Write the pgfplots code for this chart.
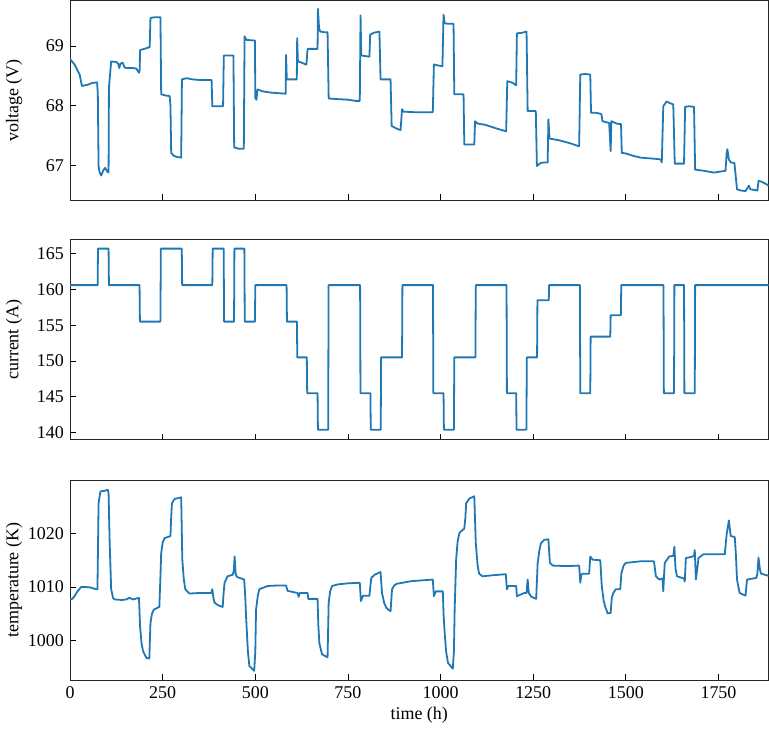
\documentclass[border=0pt]{standalone}
\usepackage{fontspec}
\setmainfont{Liberation Serif}
\usepackage{pgfplots}
\pgfplotsset{compat=1.18}
\definecolor{c0}{HTML}{1F77B4}
\begin{document}
\fontsize{18}{21}\selectfont
\begin{tikzpicture}
\pgfplotsset{
 every axis/.append style={
  scale only axis, width=700pt, height=200pt,
  xmin=0, xmax=1885,
  axis line style={line width=1pt, black!85},
  tick style={line width=0.8pt, black},
  major tick length=6pt,
  tick align=inside,
  xtick pos=bottom, ytick pos=left,
  xtick={0,250,...,1750},
  font=\fontsize{18}{21}\selectfont,
  tick label style={font=\fontsize{18}{21}\selectfont},
  label style={font=\fontsize{18}{21}\selectfont},
  /pgf/number format/assume math mode=true,
  /pgf/number format/1000 sep={},
  ylabel style={at={(axis description cs:-0.08,0.5)}, anchor=center},
  xlabel style={yshift=3pt},
 },
 myline/.style={color=c0, line width=1.8pt, line join=round, mark=none},
}
% ---------------- voltage ----------------
\begin{axis}[at={(0,0)}, ymin=66.42, ymax=69.76, ytick={67,68,69}, xticklabels={}, ylabel={voltage (V)}]
\addplot[myline] coordinates {
(0,68.78) (12,68.69) (26,68.52) (32,68.33) (48,68.35) (60,68.38) (73,68.39) (75,68.2) (77,66.99) (80,66.88) (84,66.83) (90,66.92) (95,66.96) (100,66.9) (104,66.88) (105,68.30) (111,68.74) (125,68.73) (130,68.70) (133,68.63) (136,68.70) (142,68.72) (147,68.64) (152,68.63) (170,68.63) (179,68.62) (186,68.55) (188,68.6) (189,68.93) (200,68.95) (210,68.97) (215,68.98) (217,69.47) (230,69.48) (244,69.48) (246,68.19) (258,68.17) (269,68.16) (271,68.0) (273,67.21) (280,67.16) (290,67.14) (300,67.13) (302,68.44) (315,68.46) (330,68.44) (350,68.43) (382,68.43) (384,67.99) (400,67.99) (413,67.99) (415,68.84) (428,68.84) (441,68.84) (443,67.30) (455,67.28) (469,67.28) (471,69.16) (476,69.10) (499,69.09) (500,68.13) (503,68.1) (506,68.27) (520,68.24) (540,68.22) (560,68.21) (582,68.20) (583,68.85) (585,68.44) (600,68.44) (612,68.44) (613,69.13) (615,68.74) (625,68.72) (636,68.69) (638,68.69) (641,68.95) (655,68.95) (668,68.95) (669,69.62) (672,69.3) (675,69.24) (685,69.23) (695,69.23) (698,68.12) (720,68.11) (750,68.10) (770,68.08) (782,68.08) (784,69.51) (786,68.84) (797,68.83) (808,68.82) (810,69.19) (820,69.22) (835,69.24) (838,68.44) (852,68.44) (865,68.44) (868,67.66) (880,67.62) (892,67.59) (896,67.94) (900,67.90) (930,67.89) (960,67.89) (979,67.89) (982,68.69) (995,68.67) (1005,68.66) (1008,69.52) (1011,69.38) (1020,69.37) (1035,69.37) (1037,68.19) (1050,68.19) (1062,68.19) (1064,67.35) (1080,67.35) (1091,67.35) (1093,67.74) (1100,67.70) (1120,67.68) (1150,67.62) (1177,67.57) (1180,68.41) (1195,68.38) (1204,68.34) (1206,69.21) (1220,69.22) (1232,69.24) (1235,67.91) (1245,67.91) (1257,67.91) (1260,66.99) (1270,67.04) (1280,67.05) (1289,67.05) (1291,67.77) (1294,67.45) (1320,67.42) (1350,67.37) (1374,67.32) (1377,68.52) (1390,68.53) (1404,68.52) (1406,67.88) (1420,67.88) (1434,67.86) (1437,67.74) (1455,67.71) (1459,67.24) (1461,67.74) (1475,67.70) (1487,67.69) (1489,67.21) (1500,67.2) (1520,67.16) (1540,67.13) (1560,67.12) (1580,67.11) (1594,67.10) (1597,67.05) (1601,67.99) (1610,68.07) (1620,68.04) (1628,68.02) (1632,67.03) (1645,67.03) (1657,67.03) (1660,67.98) (1670,67.99) (1684,67.98) (1687,66.93) (1710,66.91) (1738,66.88) (1769,66.91) (1772,67.2) (1774,67.27) (1778,67.1) (1783,67.05) (1793,67.04) (1800,66.6) (1810,66.58) (1823,66.57) (1830,66.64) (1832,66.66) (1836,66.6) (1855,66.58) (1858,66.74) (1865,66.73) (1881,66.68) (1885,66.66)
};
\end{axis}
% ---------------- current ----------------
\begin{axis}[at={(0,-240pt)}, ymin=139.02, ymax=166.91, ytick={140,145,...,165}, xticklabels={}, ylabel={current (A)}]
\addplot[myline] coordinates {
(0,160.6) (74.5,160.6) (75.5,165.7) (104,165.7) (105,160.6) (187.6,160.6) (188.6,155.5) (244,155.5) (245,165.7) (301.6,165.7) (302.6,160.6) (384,160.6) (385,165.7) (414.7,165.7) (415.7,155.5) (442.6,155.5) (443.6,165.7) (470.5,165.7) (471.5,155.5) (499,155.5) (500,160.6) (584.4,160.6) (585.4,155.5) (612.3,155.5) (613.3,150.5) (639,150.5) (640,145.5) (668,145.5) (669,140.4) (696.7,140.4) (697.7,160.6) (782.8,160.6) (783.8,145.5) (810.6,145.5) (811.6,140.4) (838.5,140.4) (839.5,150.5) (896,150.5) (897,160.6) (979.5,160.6) (980.5,145.5) (1008,145.5) (1009,140.4) (1036,140.4) (1037,150.5) (1094,150.5) (1095,160.6) (1178,160.6) (1179,145.5) (1204,145.5) (1205,140.4) (1231.7,140.4) (1232.7,150.5) (1260.4,150.5) (1261.4,158.5) (1292,158.5) (1293,160.6) (1376,160.6) (1377,145.5) (1404,145.5) (1405,153.4) (1458,153.4) (1459,156.4) (1486.6,156.4) (1487.6,160.6) (1601.6,160.6) (1602.6,145.5) (1630,145.5) (1631,160.6) (1657,160.6) (1658,145.5) (1686,145.5) (1687,160.6) (1885,160.6)
};
\end{axis}
% ---------------- temperature ----------------
\begin{axis}[at={(0,-481pt)}, ymin=992.7, ymax=1029.85, ytick={1000,1010,1020}, xlabel={time (h)}, ylabel={temperature (K)}]
\addplot[myline] coordinates {
(0,1007.7) (6,1007.8) (12,1008.3) (20,1009.2) (30,1010.0) (45,1010.0) (57,1009.9) (70,1009.6) (74,1009.6) (77,1025.6) (82,1027.8) (92,1027.9) (102,1028.1) (104,1027.5) (107,1018.2) (111,1009.6) (116,1008.0) (120,1007.7) (140,1007.6) (152,1007.7) (160,1008.0) (170,1007.7) (186,1008.0) (189,1002.7) (193,999.5) (197,998.1) (206,996.8) (214,996.7) (217,1003.3) (221,1005) (226,1005.8) (241,1006.3) (244,1012) (246,1016.3) (250,1018.3) (255,1019.1) (271,1019.5) (273,1023) (275,1025.6) (282,1026.4) (300,1026.7) (303,1015.1) (307,1011.5) (311,1009.6) (322,1008.8) (350,1008.9) (381,1008.9) (384,1009.6) (387,1008.0) (390,1007.1) (400,1006.6) (412,1006.3) (414,1008.5) (417,1010.8) (425,1012.0) (439,1012.3) (442,1013) (444,1015.7) (447,1012.5) (450,1011.9) (470,1011.4) (473,1008) (475,1004.6) (480,998) (484,995.3) (497,994.4) (500,998) (502,1005.8) (507,1008.5) (511,1009.6) (533,1010.2) (560,1010.3) (583,1010.3) (587,1009.3) (614,1008.9) (617,1008.2) (620,1008.9) (641,1008.9) (643,1007.8) (668,1007.8) (670,1003) (673,999.5) (680,997.5) (695,996.9) (698,1007.1) (702,1009.2) (707,1010.2) (723,1010.5) (750,1010.7) (782,1010.8) (785,1007.4) (791,1008.4) (808,1008.4) (811,1010.5) (813,1011.7) (822,1012.3) (838,1012.8) (842,1008.9) (848,1007) (854,1006.1) (865,1005.5) (869,1009.6) (875,1010.3) (881,1010.6) (921,1011.1) (979,1011.4) (982,1008.3) (987,1009.2) (1006,1009.2) (1008,1005) (1011,1001.5) (1015,998) (1020,995.9) (1033,994.8) (1036,998) (1038,1005.8) (1042,1015.1) (1046,1018.5) (1051,1020.1) (1064,1020.9) (1067,1023) (1069,1025.6) (1078,1026.5) (1091,1026.9) (1095,1018.2) (1100,1014) (1104,1012.5) (1113,1012.0) (1140,1012.2) (1176,1012.4) (1179,1009.6) (1183,1010.2) (1204,1010.2) (1206,1008.3) (1226,1008.9) (1232,1008.9) (1235,1011.4) (1238,1008.9) (1245,1008.2) (1258,1007.8) (1262,1014.5) (1267,1017) (1271,1018.2) (1280,1018.8) (1291,1018.9) (1295,1014.5) (1303,1014.0) (1340,1013.9) (1374,1014.0) (1377,1010.8) (1380,1012.3) (1383,1012.5) (1401,1012.5) (1404,1015.7) (1410,1015.1) (1431,1015.0) (1435,1010.2) (1440,1007.5) (1444,1006.4) (1451,1005.1) (1459,1005.2) (1462,1008) (1466,1008.9) (1473,1009.6) (1485,1009.6) (1488,1012.6) (1494,1014.0) (1500,1014.5) (1540,1014.8) (1576,1014.8) (1581,1012.0) (1590,1011.4) (1599,1011.6) (1601,1009.2) (1603,1012) (1605,1014.5) (1617,1015.7) (1628,1015.8) (1631,1017.5) (1634,1013.5) (1638,1012.0) (1657,1011.6) (1659,1011.0) (1662,1015.4) (1675,1015.6) (1684,1015.8) (1686,1016.9) (1689,1011.4) (1693,1013.5) (1696,1015.4) (1709,1016.1) (1740,1016.1) (1767,1016.1) (1772,1019.8) (1778,1022.4) (1783,1019.5) (1794,1019.3) (1797,1016) (1800,1011.4) (1807,1008.9) (1823,1008.4) (1827,1011.4) (1852,1011.7) (1855,1012.5) (1858,1015.5) (1862,1013.2) (1865,1012.5) (1885,1012.1)
};
\end{axis}
\end{tikzpicture}
\end{document}
